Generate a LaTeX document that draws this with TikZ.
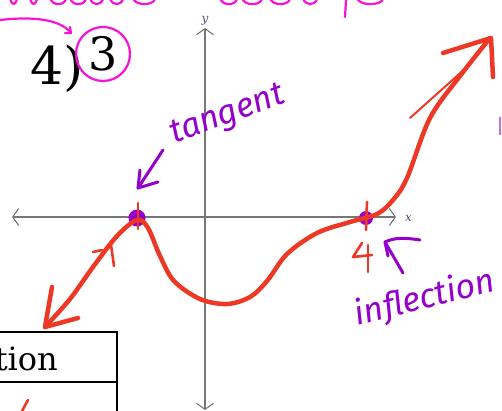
\documentclass[tikz,border=0pt]{standalone}
\usepackage{fontspec}
\setmainfont{DejaVu Serif}
\newfontfamily\handfont{Fira Sans}
\usetikzlibrary{arrows.meta,positioning}
\definecolor{PenRed}{RGB}{236,56,36}
\definecolor{PenPurple}{RGB}{148,0,204}
\definecolor{PenPink}{RGB}{246,18,214}
\definecolor{AxisGray}{RGB}{118,118,118}
\definecolor{LabelBlue}{RGB}{80,80,120}
\tikzset{
  axis/.style={draw=AxisGray,line width=1.1pt,
    {Straight Barb[length=6pt,width=17pt]}-{Straight Barb[length=6pt,width=17pt]}},
  axislabel/.style={font=\itshape\fontsize{12}{12}\selectfont,text=LabelBlue,inner sep=0pt},
  redpen/.style={draw=PenRed,line width=4.5pt,line cap=round,line join=round},
  redthin/.style={draw=PenRed,line width=2.6pt,line cap=round,line join=round},
  purplepen/.style={draw=PenPurple,line width=3pt,line cap=round,line join=round},
  pinkpen/.style={draw=PenPink,line width=2.2pt,line cap=round,line join=round},
  handnote/.style={text=PenPurple,font=\handfont\itshape\fontsize{34}{34}\selectfont,inner sep=0pt},
  bigmath/.style={font=\fontsize{52}{52}\selectfont,inner sep=0pt},
  dot/.style={circle,fill=PenPurple,inner sep=0pt}
}
\begin{document}
\begin{tikzpicture}[x=1pt,y=-1pt]
  \useasboundingbox (0,0) rectangle (502,411);
  % axes
  \coordinate (xl) at (12,217);
  \coordinate (xr) at (396,217);
  \coordinate (yt) at (205,28);
  \coordinate (yb) at (205,410);
  \draw[axis] (xl) -- (xr);
  \draw[axis] (yb) -- (yt);
  \node[axislabel,anchor=west] (xlab) at (405,218) {x};
  \node[axislabel,anchor=south] (ylab) at (205,25) {y};
  % expression and table
  \node[bigmath,anchor=base east] (expr) at (84,85) {4)};
  \node[bigmath,font=\fontsize{46}{46}\selectfont,circle,draw=PenPink,
    line width=2.2pt,minimum size=54pt] (cube) at (103,54) {3};
  \coordinate (hookstart) at (0,20);
  \draw[pinkpen] (hookstart) .. controls (35,16) and (60,20) .. (70,32);
  \draw[pinkpen] (65,33) -- (71,33) -- (70,27);
  \draw[line width=1.5pt] (0,332) -| (117,411);
  \draw[line width=1.5pt] (0,382) -- (117,382);
  \node[font=\fontsize{32}{32}\selectfont,inner sep=0pt,anchor=base east] (word) at (58,370) {tion};
  \draw[redthin] (22,411) -- (28,400);
  % handwriting cut off at the top
  \foreach \x/\w in {10/7,30/7,50/16,70/16,90/13,110/13,133/22,220/17,242/20,270/20,303/14,357/26}
    \draw[pinkpen] (\x,-2) .. controls (\x+2,6) and (\x+\w-2,6) .. (\x+\w,-1);
  \draw[pinkpen] (346,0) -- (345,17);
  \draw[draw=PenPurple!55,line width=2pt] (500,117) -- (500,135);
  % points on the axis
  \node[dot,minimum size=17pt] (tan) at (137,218) {};
  \node[dot,minimum size=14pt] (infl) at (366,218) {};
  \draw[redthin] (138,203) -- (138,229);
  \draw[redthin] (367,202) -- (366,230);
  % the curve
  \draw[redpen] plot[smooth,tension=0.55] coordinates {(45,327) (70,299) (93,267) (117,236)
    (137,220) (148,228) (160,256) (174,281) (200,299) (227,304) (250,297) (267,281)
    (287,254) (317,233) (350,222) (377,214) (393,200) (407,178) (430,118) (460,76) (490,38)};
  \draw[redpen] (52,287) -- (45,327) -- (78,318);
  \draw[redpen] (443,53) -- (491,38) -- (493,77);
  \draw[redthin,line width=2pt] (410,118) -- (467,67);
  \draw[redthin] (93,252) -- (102,250);
  \draw[redthin] (111,245) -- (114,266);
  \draw[redthin] (362,243) -- (353,257) -- (372,255);
  \draw[redthin] (368,245) -- (368,272);
  % notes
  \node[handnote,rotate=20] (tannote) at (228,116) {tangent};
  \coordinate (tanstart) at (163,150);
  \coordinate (tantip) at (138,188);
  \draw[purplepen] (tanstart) -- (tantip);
  \draw[purplepen] (140,170) -- (tantip) -- (158,182);
  \node[handnote,rotate=14] (inflnote) at (425,299) {inflection};
  \coordinate (infltip) at (385,242);
  \draw[purplepen] (403,273) -- (infltip);
  \draw[purplepen] (infltip) .. controls (395,237) and (407,238) .. (420,240);
  \draw[purplepen] (infltip) -- (388,256);
\end{tikzpicture}
\end{document}
